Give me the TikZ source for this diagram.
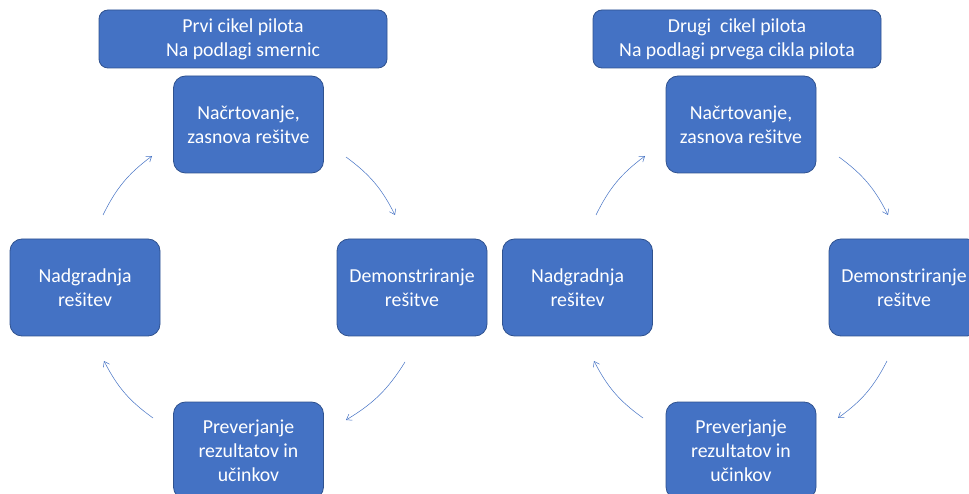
\documentclass[tikz,border=0pt]{standalone}
\usepackage{fontspec}
\setmainfont{Carlito}
\usetikzlibrary{arrows.meta}
\definecolor{boxfill}{HTML}{4472C4}
\definecolor{boxline}{HTML}{2F528F}
\definecolor{arrowc}{HTML}{4472C4}
\tikzset{
  stepbox/.style={draw=boxline, line width=0.8pt, fill=boxfill, rounded corners=12pt,
    minimum width=150pt, minimum height=97pt, text=white, align=center,
    font=\fontsize{19.8}{24}\selectfont, inner sep=0pt},
  headbox/.style={draw=boxline, line width=0.8pt, fill=boxfill, rounded corners=9pt,
    minimum width=288pt, minimum height=58pt, text=white, align=center,
    font=\fontsize{19.8}{24}\selectfont, inner sep=0pt},
  cyc/.style={draw=arrowc, line width=0.5pt, -{Straight Barb[length=5pt,width=7pt]}, bend left=13.5}
}
\begin{document}
\begin{tikzpicture}[x=1pt,y=1pt]
\useasboundingbox (0,0) rectangle (969,493);
\begin{scope}
\clip (0,0) rectangle (969,493);
% left cycle
\node[headbox] (h1) at (243,454) {Prvi cikel pilota\\Na podlagi smernic};
\node[stepbox] (t1) at (248.5,368.5) {Načrtovanje,\\zasnova rešitve};
\node[stepbox] (l1) at (85,205.5) {Nadgradnja\\rešitev};
\node[stepbox] (r1) at (412,205.5) {Demonstriranje\\rešitve};
\node[stepbox] (b1) at (248.5,42.5) {Preverjanje\\rezultatov in\\učinkov};
\coordinate (a1s) at (103,278);
\coordinate (a1e) at (152,337);
\coordinate (a2s) at (346,336);
\coordinate (a2e) at (395,278);
\coordinate (a3s) at (405,131);
\coordinate (a3e) at (346,73);
\coordinate (a4s) at (153,75);
\coordinate (a4e) at (104,132);
\draw[cyc] (a1s) to (a1e);
\draw[cyc] (a2s) to (a2e);
\draw[cyc] (a3s) to (a3e);
\draw[cyc] (a4s) to (a4e);
% right cycle
\node[headbox] (h2) at (737,454) {Drugi\ \ cikel pilota\\Na podlagi prvega cikla pilota};
\node[stepbox] (t2) at (741,368.5) {Načrtovanje,\\zasnova rešitve};
\node[stepbox] (l2) at (577.5,205.5) {Nadgradnja\\rešitev};
\node[stepbox] (r2) at (904,205.5) {Demonstriranje\\rešitve};
\node[stepbox] (b2) at (741,42.5) {Preverjanje\\rezultatov in\\učinkov};
\coordinate (c1s) at (596,278);
\coordinate (c1e) at (645,337);
\coordinate (c2s) at (839,336);
\coordinate (c2e) at (888,278);
\coordinate (c3s) at (887,132);
\coordinate (c3e) at (838,75);
\coordinate (c4s) at (643,75);
\coordinate (c4e) at (594,132);
\draw[cyc] (c1s) to (c1e);
\draw[cyc] (c2s) to (c2e);
\draw[cyc] (c3s) to (c3e);
\draw[cyc] (c4s) to (c4e);
\end{scope}
\end{tikzpicture}
\end{document}
